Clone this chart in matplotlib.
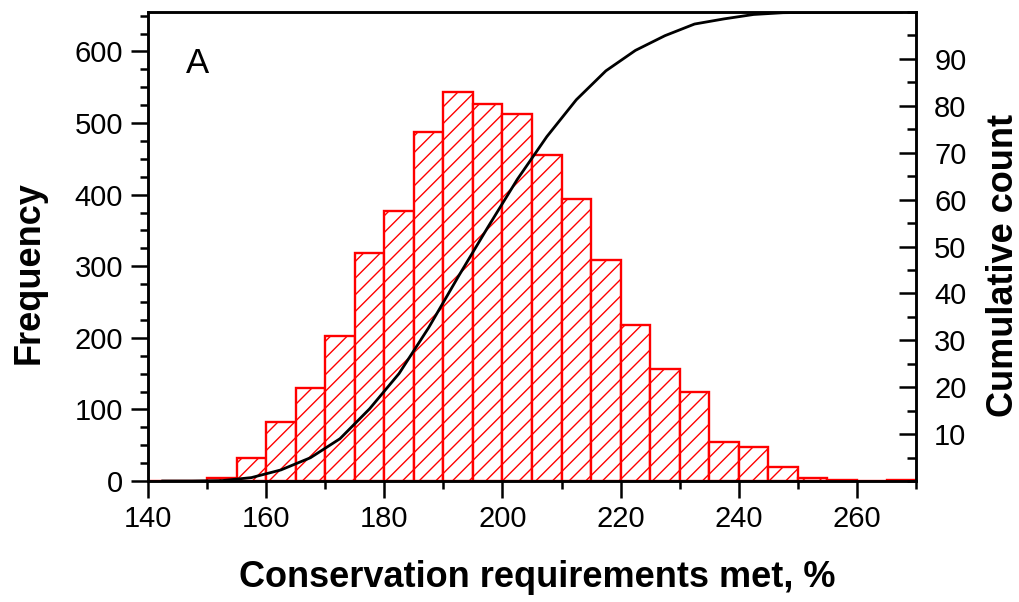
import matplotlib
matplotlib.use('Agg')
from matplotlib import pyplot as plt
from matplotlib.ticker import MultipleLocator, FixedLocator
import numpy as np

plt.rcParams['font.family'] = ['Liberation Sans', 'DejaVu Sans']
plt.rcParams['hatch.linewidth'] = 1.0

# histogram bins (left edges, width 5) and counts
bin_left = [140, 145, 150, 155, 160, 165, 170, 175, 180, 185, 190, 195, 200,
            205, 210, 215, 220, 225, 230, 235, 240, 245, 250, 255, 260, 265]
counts = [0, 0, 4, 32, 82, 130, 203, 318, 377, 488, 543, 526, 512,
          456, 394, 308, 218, 157, 124, 55, 47, 19, 4, 2, 0, 1]
bin_width = 5

left = np.array(bin_left, dtype=float)
freq = np.array(counts, dtype=float)
centers = left + bin_width / 2.0
cumulative = np.cumsum(freq) / freq.sum() * 100.0

fig = plt.figure(figsize=(10.19, 6.02), dpi=100)
ax = fig.add_axes([0.1452, 0.201, 0.7538, 0.779])

ax.bar(left, freq, width=bin_width, align='edge', facecolor='white',
       edgecolor='red', linewidth=1.7, hatch='//', zorder=2)
ax.set_xlim(140, 270)
ax.set_ylim(0, 655)

ax.xaxis.set_major_locator(MultipleLocator(20))
ax.xaxis.set_minor_locator(MultipleLocator(10))
ax.yaxis.set_major_locator(MultipleLocator(100))
ax.yaxis.set_minor_locator(MultipleLocator(25))
ax.tick_params(axis='x', which='major', direction='out', length=12, width=1.8,
               labelsize=21, pad=5, top=False)
ax.tick_params(axis='x', which='minor', direction='out', length=6, width=1.8, top=False)
ax.tick_params(axis='y', which='major', direction='out', length=12, width=1.8,
               labelsize=21, pad=6, right=False)
ax.tick_params(axis='y', which='minor', direction='out', length=6, width=1.8, right=False)
for sp in ax.spines.values():
    sp.set_linewidth(1.8)

ax.set_xlabel('Conservation requirements met, %', fontsize=26, fontweight='bold', labelpad=20)
ax.xaxis.label.set_x(0.507)
ax.set_ylabel('Frequency', fontsize=26, fontweight='bold', labelpad=20)
ax.yaxis.label.set_y(0.445)
ax.text(148.3, 583, 'A', fontsize=25, ha='center', va='center')

# cumulative percentage on the right axis
ax2 = ax.twinx()
ax2.plot(centers, cumulative, color='black', linewidth=2.0, zorder=3)
ax2.set_ylim(0, 100)
ax2.yaxis.set_major_locator(FixedLocator(list(range(10, 100, 10))))
ax2.yaxis.set_minor_locator(MultipleLocator(5))
ax2.tick_params(axis='y', which='major', direction='in', length=12, width=1.8,
                labelsize=21, pad=13)
ax2.tick_params(axis='y', which='minor', direction='in', length=6.5, width=1.8)
for sp in ax2.spines.values():
    sp.set_linewidth(1.8)
ax2.set_ylabel('Cumulative count', fontsize=26, fontweight='bold', labelpad=14)
ax2.yaxis.label.set_y(0.46)

plt.savefig('out.png', dpi=100)
